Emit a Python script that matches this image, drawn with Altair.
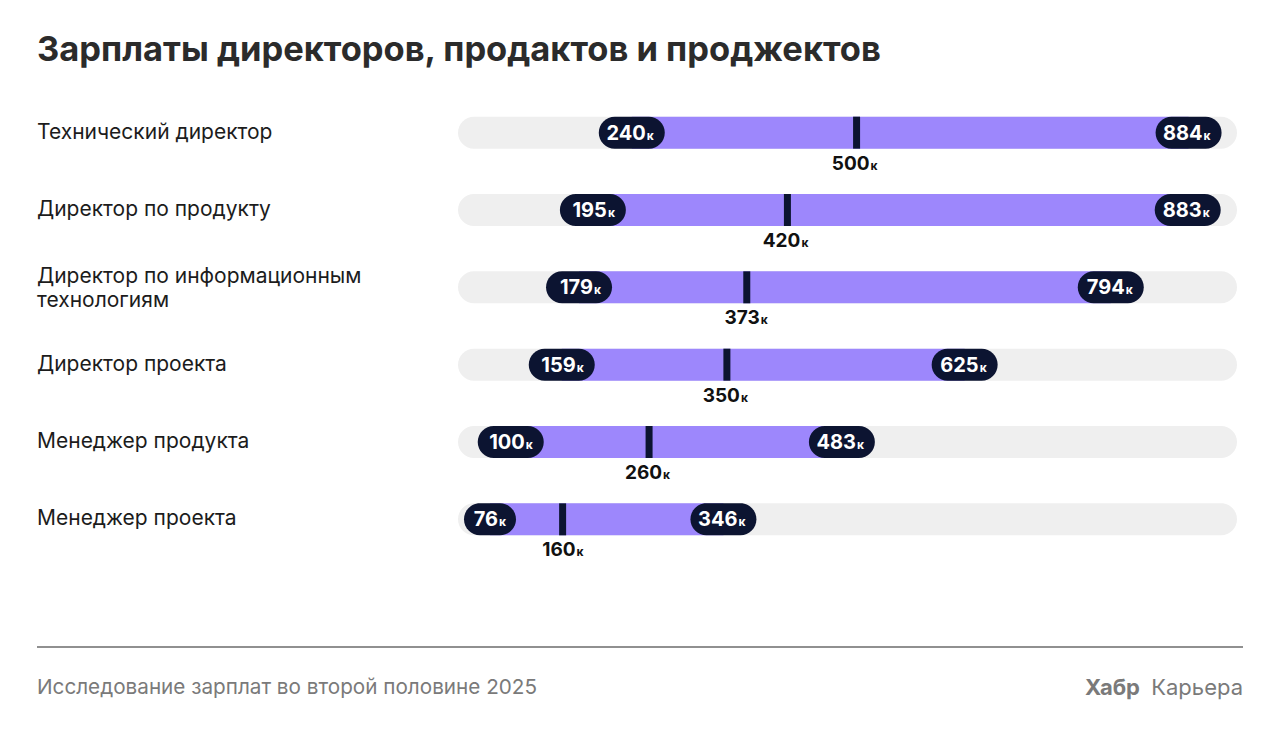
import altair as alt
import pandas as pd

# ---- data ----
ROLES = [
    "Технический директор",
    "Директор по продукту",
    "Директор по информационным\nтехнологиям",
    "Директор проекта",
    "Менеджер продукта",
    "Менеджер проекта",
]
MIN_K = [240, 195, 179, 159, 100, 76]
MEDIAN_K = [500, 420, 373, 350, 260, 160]
MAX_K = [884, 883, 794, 625, 483, 346]
SCALE_LO, SCALE_HI = 39, 940  # extent of the grey track, thousands
TITLE = "Зарплаты директоров, продактов и проджектов"
SOURCE = "Исследование зарплат во второй половине 2025"
BRAND_BOLD = "Хабр"
BRAND = "Карьера"
UNIT = "к"

# ---- style ----
FONT = "Inter"
PURPLE = "#9d87fc"
NAVY = "#0c1431"
TRACK = "#efefef"

df = pd.DataFrame({
    "role": ROLES, "lo": MIN_K, "med": MEDIAN_K, "hi": MAX_K,
    "track_lo": SCALE_LO, "track_hi": SCALE_HI,
})

xs = alt.Scale(domain=[SCALE_LO, SCALE_HI], nice=False, zero=False)
Y = alt.Y("role:N", sort=ROLES, axis=None,
          scale=alt.Scale(paddingInner=0, paddingOuter=0))

def X(field):
    return alt.X(field, scale=xs, axis=None)

base = alt.Chart(df)

track = base.mark_bar(color=TRACK, cornerRadius=16, height=32).encode(
    x=X("track_lo:Q"), x2="track_hi:Q", y=Y)
rng = base.mark_bar(color=PURPLE, height=32).encode(
    x=X("lo:Q"), x2="hi:Q", y=Y)
tick = base.mark_tick(color=NAVY, thickness=7, size=32, opacity=1).encode(
    x=X("med:Q"), y=Y)

med_num = base.mark_text(font=FONT, fontSize=19, fontWeight="bold", color="#111111",
                         align="right", baseline="alphabetic", dx=13, dy=37).encode(
    x=X("med:Q"), y=Y, text="med:N")
med_k = base.mark_text(font=FONT, fontSize=12, fontWeight="bold", color="#111111",
                       align="left", baseline="alphabetic", dx=14, dy=37, text=UNIT).encode(
    x=X("med:Q"), y=Y)

ends = base.transform_fold(["lo", "hi"], as_=["end", "value"]).transform_calculate(
    label="toString(datum.value)", nd="length(toString(datum.value))")

pill_layers = []
for nd, half, ndx in [(3, 33, 14), (2, 26, 8)]:
    b = ends.transform_filter(f"datum.nd == {nd}")
    pill_layers.append(
        b.mark_bar(color=NAVY, cornerRadius=16, height=32,
                   xOffset=-half, x2Offset=half).encode(
            x=X("value:Q"), x2="value:Q", y=Y))
    pill_layers.append(
        b.mark_text(font=FONT, fontSize=20, fontWeight="bold", color="white",
                    align="right", baseline="alphabetic", dx=ndx, dy=7).encode(
            x=X("value:Q"), y=Y, text="label:N"))
    pill_layers.append(
        b.mark_text(font=FONT, fontSize=12, fontWeight="bold", color="white",
                    align="left", baseline="alphabetic", dx=ndx + 1, dy=7, text=UNIT).encode(
            x=X("value:Q"), y=Y))

label_style = dict(font=FONT, fontSize=21, color="#1c1c1c", align="left",
                   baseline="middle", lineBreak="\n", lineHeight=24)
labels_one = base.transform_filter("indexof(datum.role, '\\n') < 0").mark_text(
    **label_style).encode(x=alt.value(-421), y=Y, text="role:N")
labels_two = base.transform_filter("indexof(datum.role, '\\n') >= 0").mark_text(
    dy=-10, **label_style).encode(x=alt.value(-421), y=Y, text="role:N")

title = alt.Chart(pd.DataFrame({"t": [TITLE]})).mark_text(
    font=FONT, fontSize=34.5, fontWeight="bold", color="#2b2b2b",
    align="left", baseline="alphabetic").encode(
    x=alt.value(-421), y=alt.value(-33), text="t:N")

rule = alt.Chart(pd.DataFrame({"a": [0]})).mark_rule(color="#6b6b6b", strokeWidth=1.5).encode(
    x=alt.value(-421), x2=alt.value(785), y=alt.value(553))

source = alt.Chart(pd.DataFrame({"t": [SOURCE]})).mark_text(
    font=FONT, fontSize=20.7, color="#7a7a7a", align="left", baseline="alphabetic").encode(
    x=alt.value(-421), y=alt.value(600), text="t:N")
brand_b = alt.Chart(pd.DataFrame({"t": [BRAND_BOLD]})).mark_text(
    font=FONT, fontSize=22, fontWeight="bold", color="#7a7a7a", align="right",
    baseline="alphabetic").encode(x=alt.value(682), y=alt.value(601), text="t:N")
brand = alt.Chart(pd.DataFrame({"t": [BRAND]})).mark_text(
    font=FONT, fontSize=22, color="#7a7a7a", align="right",
    baseline="alphabetic").encode(x=alt.value(785), y=alt.value(601), text="t:N")

chart = alt.layer(
    track, rng, tick, *pill_layers, med_num, med_k, labels_one, labels_two,
    title, rule, source, brand_b, brand,
).properties(
    width=779, height=464,
    autosize=alt.AutoSizeParams(type="none"),
    padding={"left": 458, "top": 94, "right": 43, "bottom": 177},
    background="white",
).configure_view(strokeWidth=0)

chart.save("out.html", embed_options={"renderer": "svg", "actions": False})
